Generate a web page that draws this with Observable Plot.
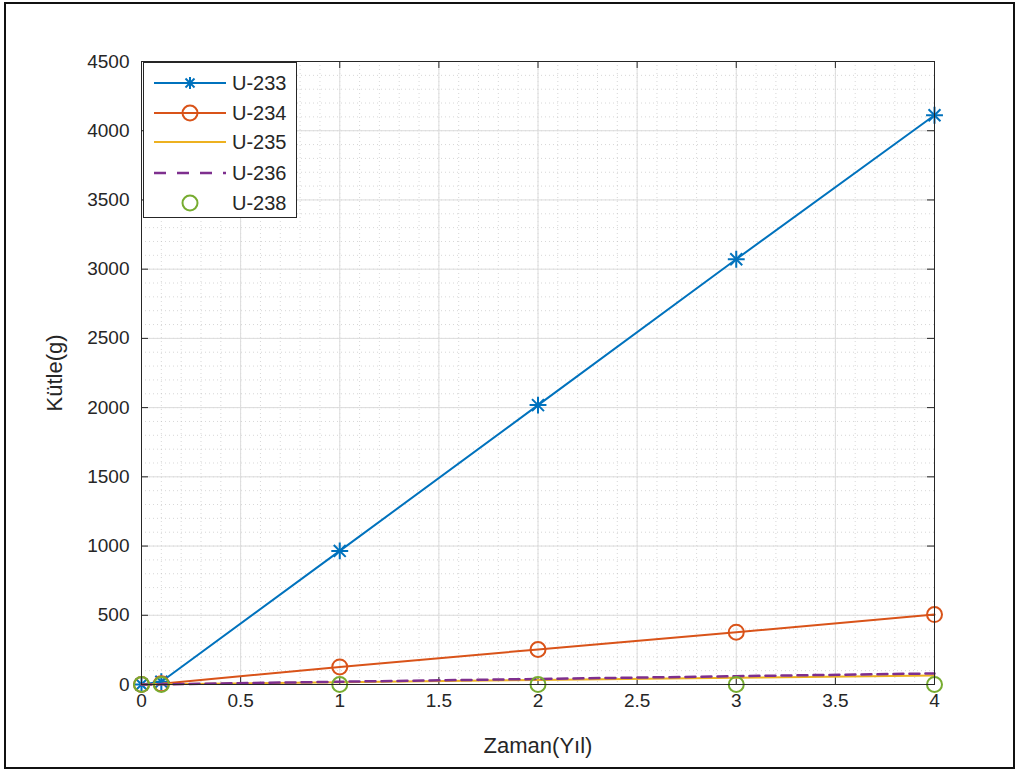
<!DOCTYPE html>
<html>
<head>
<meta charset="utf-8">
<script src="https://cdn.jsdelivr.net/npm/d3@7"></script>
<script src="https://cdn.jsdelivr.net/npm/@observablehq/plot@0.6"></script>
<style>
  html, body { margin: 0; padding: 0; background: #fff; }
  #wrap { position: relative; width: 1019px; height: 771px; overflow: hidden; font-family: "Liberation Sans", Arial, sans-serif; }
  #border { position: absolute; left: 4px; top: 2px; width: 1007px; height: 763px; border: 2px solid #111; pointer-events: none; }
  #legend { position: absolute; left: 143px; top: 62px; width: 154px; height: 156px; background: #fff; border: 1px solid #262626; box-sizing: border-box; }
  .row { position: absolute; left: 0; height: 30px; display: flex; align-items: center; }
  .row svg { display: block; }
  .row span { font-size: 20px; color: #262626; margin-left: 2px; }
</style>
</head>
<body>
<div id="wrap"></div>
<script>
// Data
const years = [0, 0.1, 1, 2, 3, 4];
const u233 = [0, 20, 965, 2018, 3072, 4112];
const u234 = [0, 5, 127, 253, 378, 505];
const u235 = [0, 1, 16, 33, 49, 65];
const u236 = [0, 1, 20, 40, 60, 80];
const u238 = [0, 0, 0, 0, 0, 0];

const seriesNames = ["U-233", "U-234", "U-235", "U-236", "U-238"];
const colors = ["#0072BD", "#D95319", "#EDB120", "#7E2F8E", "#77AC30"];

const xTicks = [0, 0.5, 1, 1.5, 2, 2.5, 3, 3.5, 4];
const yTicks = [0, 500, 1000, 1500, 2000, 2500, 3000, 3500, 4000, 4500];

const rows = (vals) => years.map((x, i) => ({x, y: vals[i]}));
const d233 = rows(u233), d234 = rows(u234), d235 = rows(u235), d236 = rows(u236), d238 = rows(u238);

const W = 1019, H = 771;
const mL = 141, mR = 85, mT = 61, mB = 87;
const plotW = W - mL - mR, plotH = H - mT - mB;
const tickLen = 7;
const axisColor = "#262626";

const chart = Plot.plot({
  width: W, height: H,
  marginLeft: mL, marginRight: mR, marginTop: mT, marginBottom: mB,
  style: {fontFamily: "'Liberation Sans', Arial, sans-serif", fontSize: "19px", color: axisColor, background: "transparent"},
  x: {domain: [0, 4]},
  y: {domain: [0, 4500]},
  marks: [
    // minor grid
    Plot.gridX({ticks: 40, stroke: "#bdbdbd", strokeOpacity: 0.6, strokeDasharray: "1,3"}),
    Plot.gridY({ticks: 45, stroke: "#bdbdbd", strokeOpacity: 0.6, strokeDasharray: "1,3"}),
    // major grid
    Plot.gridX(xTicks, {stroke: "#dcdcdc", strokeOpacity: 1}),
    Plot.gridY(yTicks, {stroke: "#dcdcdc", strokeOpacity: 1}),
    // inward ticks
    Plot.ruleX(xTicks, {stroke: axisColor, insetTop: plotH - tickLen}),
    Plot.ruleX(xTicks, {stroke: axisColor, insetBottom: plotH - tickLen}),
    Plot.ruleY(yTicks, {stroke: axisColor, insetRight: plotW - tickLen}),
    Plot.ruleY(yTicks, {stroke: axisColor, insetLeft: plotW - tickLen}),
    // axes
    Plot.axisX(xTicks, {tickSize: 0, tickPadding: 9, tickFormat: d => String(d), label: null, fontSize: 19}),
    Plot.axisY(yTicks, {tickSize: 0, tickPadding: 12, tickFormat: d => String(d), label: null, fontSize: 19}),
    Plot.axisX({ticks: [], tickSize: 0, label: "Zaman(Yıl)", labelAnchor: "center", labelArrow: "none", labelOffset: 68, fontSize: 22}),
    Plot.axisY({ticks: [], tickSize: 0, label: "Kütle(g)", labelAnchor: "center", labelArrow: "none", labelOffset: 95, fontSize: 22}),
    // series
    Plot.line(d233, {x: "x", y: "y", stroke: colors[0], strokeWidth: 2}),
    Plot.dot(d233, {x: "x", y: "y", symbol: "plus", r: 5.5, stroke: colors[0], strokeWidth: 2}),
    Plot.dot(d233, {x: "x", y: "y", symbol: "times", r: 5.5, stroke: colors[0], strokeWidth: 2}),
    Plot.line(d234, {x: "x", y: "y", stroke: colors[1], strokeWidth: 2}),
    Plot.dot(d234, {x: "x", y: "y", symbol: "circle", r: 7.5, stroke: colors[1], strokeWidth: 2, fill: "none"}),
    Plot.line(d235, {x: "x", y: "y", stroke: colors[2], strokeWidth: 2}),
    Plot.line(d236, {x: "x", y: "y", stroke: colors[3], strokeWidth: 2.5, strokeDasharray: "10,6"}),
    Plot.dot(d238, {x: "x", y: "y", symbol: "circle", r: 7.5, stroke: colors[4], strokeWidth: 2, fill: "none"}),
    Plot.frame({stroke: axisColor, strokeWidth: 1})
  ]
});

const wrap = document.getElementById("wrap");
wrap.appendChild(chart);

// Legend
const legend = document.createElement("div");
legend.id = "legend";
const legendStyles = [
  {dash: null, marker: "star"},
  {dash: null, marker: "circle"},
  {dash: null, marker: null},
  {dash: "12,11", marker: null},
  {dash: null, marker: "circle", noLine: true}
];
const rowTops = [5, 35, 64, 95, 125];
seriesNames.forEach((name, i) => {
  const row = document.createElement("div");
  row.className = "row";
  row.style.top = rowTops[i] + "px";
  const st = legendStyles[i];
  const c = colors[i];
  let svg = `<svg width="86" height="30" viewBox="0 0 86 30">`;
  if (!st.noLine) svg += `<line x1="10" x2="82" y1="15" y2="15" stroke="${c}" stroke-width="${st.dash ? 2.5 : 2}" ${st.dash ? `stroke-dasharray="${st.dash}"` : ""}/>`;
  if (st.marker === "circle") svg += `<circle cx="46" cy="15" r="7.5" fill="none" stroke="${c}" stroke-width="2"/>`;
  if (st.marker === "star") svg += `<g stroke="${c}" stroke-width="2"><line x1="46" x2="46" y1="9" y2="21"/><line x1="40" x2="52" y1="15" y2="15"/><line x1="41.5" x2="50.5" y1="10.5" y2="19.5"/><line x1="41.5" x2="50.5" y1="19.5" y2="10.5"/></g>`;
  svg += `</svg>`;
  row.innerHTML = svg + `<span>${name}</span>`;
  legend.appendChild(row);
});
wrap.appendChild(legend);

const border = document.createElement("div");
border.id = "border";
wrap.appendChild(border);
</script>
</body>
</html>
